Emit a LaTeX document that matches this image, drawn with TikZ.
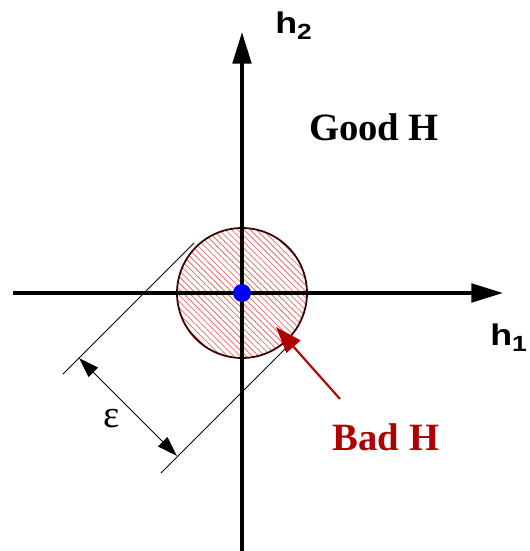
\documentclass[tikz,border=0pt]{standalone}
\usepackage{fontspec}
\setmainfont{Liberation Serif}
\setsansfont{Liberation Sans}
\usepackage{tikz}
\usetikzlibrary{arrows.meta, patterns.meta}

\definecolor{badred}{RGB}{176,0,0}
\definecolor{hatchred}{RGB}{228,110,110}
\definecolor{rimred}{RGB}{60,0,0}

\newcommand{\hlabel}[1]{\scalebox{1.2}[1]{\sffamily\bfseries\fontsize{17}{18}\selectfont h\raisebox{-3.6pt}{\fontsize{12.5}{13}\selectfont #1}}}

\begin{document}
\begin{tikzpicture}[
    x=0.02cm, y=-0.02cm,
    every node/.style={inner sep=0pt},
    axis/.style={line width=2.1pt, -{Triangle[length=18pt, width=10.5pt]}},
    dimline/.style={line width=0.5pt},
    dimarrow/.style={line width=0.6pt, {Triangle[length=11.5pt, width=7.5pt]}-{Triangle[length=11.5pt, width=7.5pt]}},
    badarrow/.style={line width=1.2pt, badred, -{Triangle[length=15pt, width=10.5pt]}},
    title/.style={font=\bfseries\fontsize{22}{26}\selectfont}
]
\useasboundingbox (0,0) rectangle (529,551);

% Coordinates
\coordinate (origin) at (242,293);
\coordinate (left) at (13,293);
\coordinate (right) at (503,293);
\coordinate (bottom) at (242,551);
\coordinate (top) at (242,32);

% Region
\node (bad) [circle, draw=rimred, line width=1pt, pattern={Lines[angle=-45, distance=2.5pt, line width=0.45pt]}, pattern color=hatchred, minimum size=2.6cm] at (origin) {};

% Tangent lines
\coordinate (t1a) at (63,374);
\coordinate (t1b) at (194,243);
\coordinate (t2a) at (161,473);
\coordinate (t2b) at (288,346);
\coordinate (d1) at (79,358);
\coordinate (d2) at (177,456);
\draw[dimline] (t1a) -- (t1b);
\draw[dimline] (t2a) -- (t2b);

% Axes
\draw[axis] (left) -- (right);
\draw[axis] (bottom) -- (top);
\node (dot) [circle, fill=blue, minimum size=0.36cm] at (origin) {};

% Labels
\node (h2) [anchor=base west] at (275,33) {\hlabel{2}};
\node (h1) [anchor=base west] at (490,345) {\hlabel{1}};
\node (good) [title] at (374,127) {Good H};
\node (badtext) [title, text=badred] at (386,437) {Bad H};
\node (eps) [font=\fontsize{22}{22}\selectfont] at (112,419) {ε};

% Arrows
\draw[dimarrow] (d1) -- (d2);
\coordinate (tail) at (340,399);
\coordinate (tip) at (276,327);
\draw[badarrow] (tail) -- (tip);

\end{tikzpicture}
\end{document}
